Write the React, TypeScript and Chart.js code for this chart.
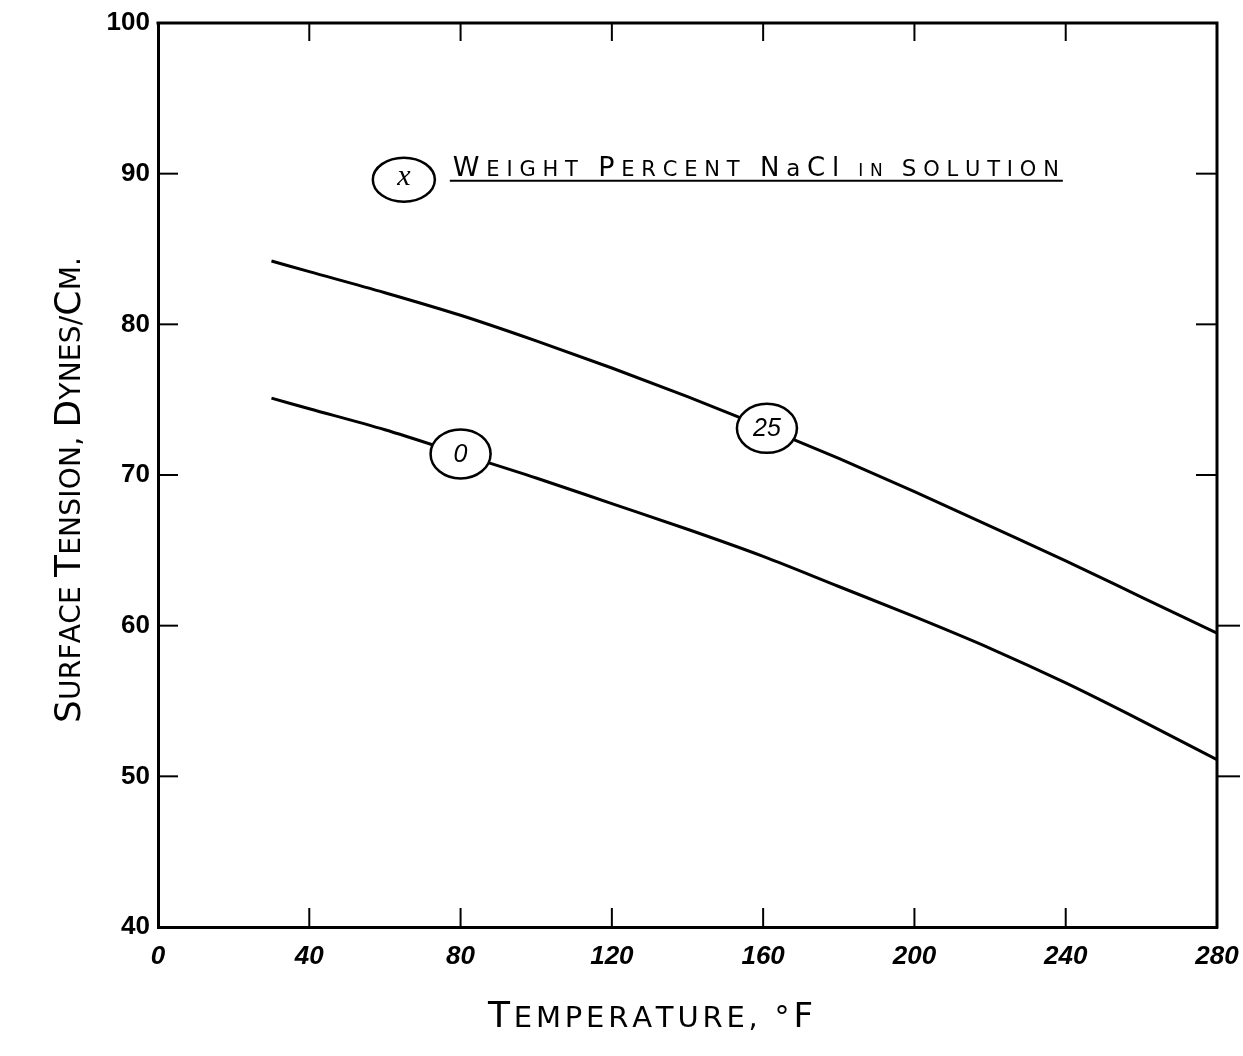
import React, { useEffect, useRef } from "react";
import { Chart, registerables } from "chart.js";

Chart.register(...registerables);

// ---- data ----
const temperatureF = [30, 40, 60, 80, 100, 120, 140, 160, 180, 200, 220, 240, 260, 280];
const tension25 = [84.2, 83.5, 82.1, 80.6, 78.9, 77.1, 75.2, 73.2, 71.1, 68.9, 66.6, 64.3, 61.9, 59.5];
const tension0 = [75.1, 74.4, 73.0, 71.4, 69.8, 68.1, 66.4, 64.6, 62.6, 60.6, 58.5, 56.2, 53.7, 51.1];
const seriesLabels = ["0", "25"];
const labelAtTemp = [80, 161];
const xTicks = [0, 40, 80, 120, 160, 200, 240, 280];
const yTicks = [40, 50, 60, 70, 80, 90, 100];
const legendMark = "x";
const legendText: [string, number][] = [
  ["W", 27], ["EIGHT ", 21], ["P", 27], ["ERCENT ", 21], ["N", 26], ["a", 23],
  ["C", 26], ["l", 26], [" IN ", 17], ["S", 23], ["OLUTION", 21],
];
const xTitle: [string, number][] = [["T", 36], ["EMPERATURE, ", 29], ["°", 30], ["F", 34]];
const yTitle: [string, number][] = [
  ["S", 36], ["URFACE ", 28], ["T", 36], ["ENSION, ", 28], ["D", 36], ["YNES/", 28], ["C", 36], ["M.", 28],
];

const FAMILY = "'Liberation Sans', 'DejaVu Sans', sans-serif";
const TFAMILY = "'DejaVu Sans', 'Liberation Sans', sans-serif";

function drawSegs(
  ctx: CanvasRenderingContext2D,
  segs: [string, number][],
  cx: number,
  baseY: number,
  targetWidth: number,
  italic = false
) {
  const chars: { ch: string; size: number; w: number }[] = [];
  for (const [t, s] of segs) {
    for (const ch of t) {
      ctx.font = `${italic ? "italic " : ""}${s}px ${TFAMILY}`;
      chars.push({ ch, size: s, w: ctx.measureText(ch).width });
    }
  }
  const natural = chars.reduce((a, c) => a + c.w, 0);
  const extra = chars.length > 1 ? (targetWidth - natural) / (chars.length - 1) : 0;
  let x = cx - targetWidth / 2;
  ctx.textAlign = "left";
  ctx.textBaseline = "alphabetic";
  for (const c of chars) {
    ctx.font = `${italic ? "italic " : ""}${c.size}px ${TFAMILY}`;
    ctx.fillText(c.ch, x, baseY);
    x += c.w + extra;
  }
}

const annotPlugin = {
  id: "annot",
  afterDraw(chart: any) {
    const { ctx, chartArea: a, scales } = chart;
    const x = scales.x;
    const y = scales.y;
    ctx.save();
    ctx.strokeStyle = "#000";
    ctx.fillStyle = "#000";
    ctx.lineCap = "square";
    // top & right frame
    ctx.lineWidth = 3;
    ctx.beginPath();
    ctx.moveTo(a.left, a.top);
    ctx.lineTo(a.right, a.top);
    ctx.lineTo(a.right, a.bottom);
    ctx.stroke();
    // inward ticks
    ctx.lineWidth = 2;
    const line = (x1: number, y1: number, x2: number, y2: number) => {
      ctx.beginPath();
      ctx.moveTo(x1, y1);
      ctx.lineTo(x2, y2);
      ctx.stroke();
    };
    for (const t of x.ticks) {
      if (t.value <= x.min || t.value >= x.max) continue;
      const px = x.getPixelForValue(t.value);
      line(px, a.bottom, px, a.bottom - 18);
      line(px, a.top, px, a.top + 17);
    }
    for (const t of y.ticks) {
      if (t.value <= y.min || t.value >= y.max) continue;
      const py = y.getPixelForValue(t.value);
      line(a.left, py, a.left + 19, py);
      if (t.value <= 60) line(a.right, py, a.right + 22, py);
      else line(a.right - 20, py, a.right, py);
    }

    // curve labels (circled)
    const series = [tension0, tension25];
    series.forEach((vals, i) => {
      const tv = labelAtTemp[i];
      const k = temperatureF.findIndex((t) => t >= tv);
      const t0 = temperatureF[k - 1], t1 = temperatureF[k];
      const v = vals[k - 1] + ((vals[k] - vals[k - 1]) * (tv - t0)) / (t1 - t0);
      const px = x.getPixelForValue(tv);
      const py = y.getPixelForValue(v);
      ctx.beginPath();
      ctx.ellipse(px, py, 30, 24.5, 0, 0, Math.PI * 2);
      ctx.fillStyle = "#fff";
      ctx.fill();
      ctx.lineWidth = 2.5;
      ctx.stroke();
      ctx.fillStyle = "#000";
      ctx.font = `italic 25px ${FAMILY}`;
      ctx.textAlign = "center";
      ctx.textBaseline = "middle";
      ctx.fillText(seriesLabels[i], px, py + 1);
    });

    // legend note
    const lx = x.getPixelForValue(65);
    const ly = y.getPixelForValue(89.6);
    ctx.beginPath();
    ctx.ellipse(lx, ly, 31, 22, 0, 0, Math.PI * 2);
    ctx.lineWidth = 2.5;
    ctx.stroke();
    ctx.font = `italic 30px 'Liberation Serif', serif`;
    ctx.textAlign = "center";
    ctx.textBaseline = "middle";
    ctx.fillText(legendMark, lx, ly - 3);
    drawSegs(ctx, legendText, lx + 352, ly - 4, 606);
    ctx.lineWidth = 2;
    line(lx + 47, ly + 1, lx + 658, ly + 1);

    // axis titles
    const cxx = (a.left + a.right) / 2 - 37;
    drawSegs(ctx, xTitle, cxx, a.bottom + 100, 325);
    ctx.save();
    ctx.translate(a.left - 78, (a.top + a.bottom) / 2 + 15);
    ctx.rotate(-Math.PI / 2);
    drawSegs(ctx, yTitle, 0, 0, 466);
    ctx.restore();

    ctx.restore();
  },
};

export default function App() {
  const ref = useRef<HTMLCanvasElement | null>(null);
  useEffect(() => {
    if (!ref.current) return;
    const chart = new Chart(ref.current, {
      type: "line",
      data: {
        labels: temperatureF,
        datasets: [
          {
            label: seriesLabels[0],
            data: temperatureF.map((t, i) => ({ x: t, y: tension0[i] })),
            borderColor: "#000",
            borderWidth: 3,
            pointRadius: 0,
            cubicInterpolationMode: "monotone",
            fill: false,
          },
          {
            label: seriesLabels[1],
            data: temperatureF.map((t, i) => ({ x: t, y: tension25[i] })),
            borderColor: "#000",
            borderWidth: 3,
            pointRadius: 0,
            cubicInterpolationMode: "monotone",
            fill: false,
          },
        ],
      },
      options: {
        animation: false,
        responsive: true,
        maintainAspectRatio: false,
        layout: { padding: { top: 23, right: 26, left: 0, bottom: 0 } },
        plugins: { legend: { display: false }, tooltip: { enabled: false }, title: { display: false } },
        scales: {
          x: {
            type: "linear",
            min: xTicks[0],
            max: xTicks[xTicks.length - 1],
            afterBuildTicks: (s: any) => {
              s.ticks = xTicks.map((v) => ({ value: v }));
            },
            afterFit: (s: any) => {
              s.height = 129;
              s.paddingLeft = 0;
              s.paddingRight = 0;
            },
            grid: { display: true, drawOnChartArea: false, drawTicks: false },
            border: { display: true, color: "#000", width: 3 },
            ticks: {
              color: "#000",
              padding: 14,
              maxRotation: 0,
              font: { family: FAMILY, size: 26, style: "italic", weight: "bold" },
            },
          },
          y: {
            type: "linear",
            min: yTicks[0],
            max: yTicks[yTicks.length - 1],
            afterBuildTicks: (s: any) => {
              s.ticks = yTicks.map((v) => ({ value: v }));
            },
            afterFit: (s: any) => {
              s.width = 158;
              s.paddingTop = 0;
              s.paddingBottom = 0;
            },
            grid: { display: true, drawOnChartArea: false, drawTicks: false },
            border: { display: true, color: "#000", width: 3 },
            ticks: {
              color: "#000",
              padding: 8,
              font: { family: FAMILY, size: 26, weight: "bold" },
            },
          },
        },
      },
      plugins: [annotPlugin],
    });
    return () => chart.destroy();
  }, []);
  return (
    <div style={{ position: "fixed", left: 0, top: 0, width: 1243, height: 1056, background: "#fff" }}>
      <canvas ref={ref} />
    </div>
  );
}
